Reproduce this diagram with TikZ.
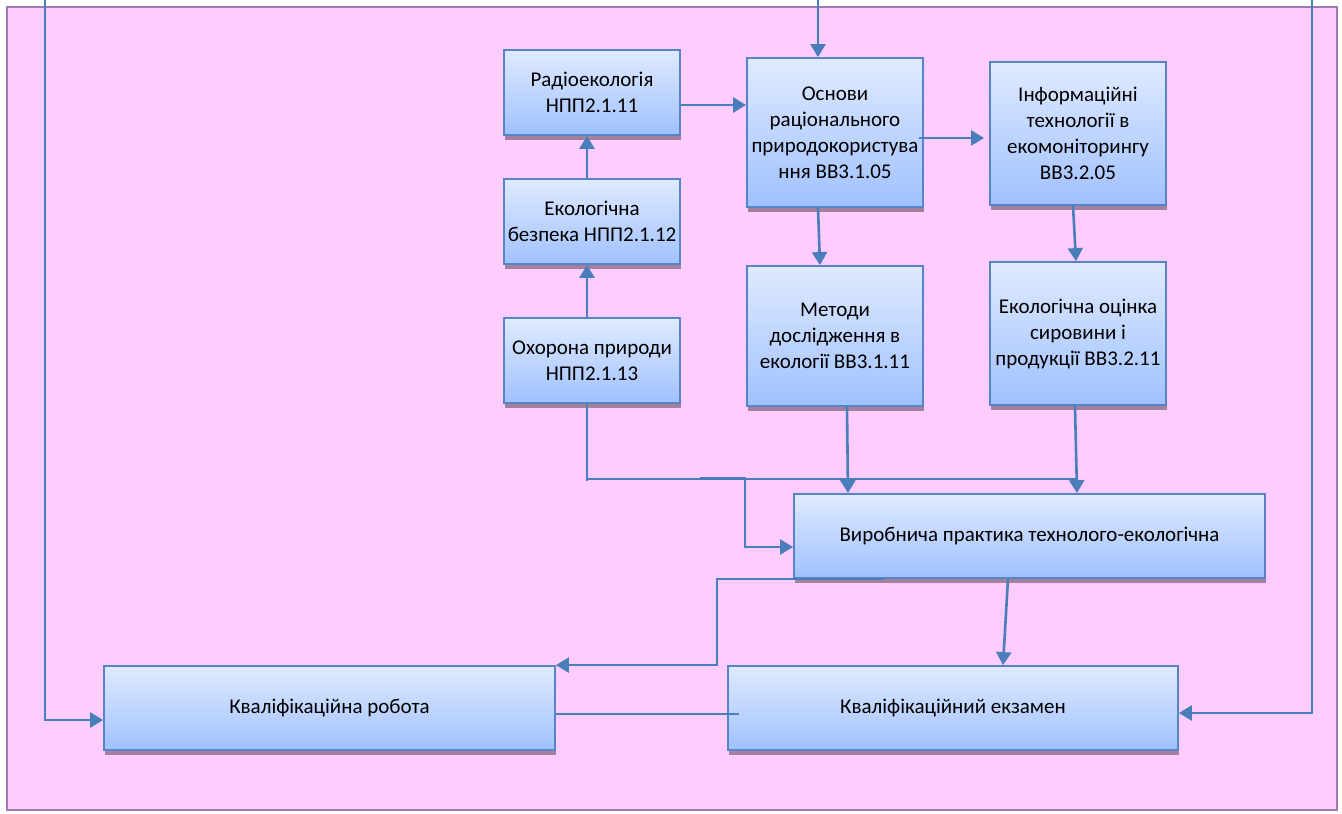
\documentclass[tikz,border=0pt]{standalone}
\usepackage{fontspec}
\setmainfont{Carlito}
\usetikzlibrary{arrows.meta,shadows}
\definecolor{pagepink}{HTML}{FFCCFF}
\definecolor{pageedge}{HTML}{9C7BB5}
\definecolor{boxedge}{HTML}{5585C4}
\definecolor{boxtop}{HTML}{DFEAFF}
\definecolor{boxbot}{HTML}{A0C1FF}
\definecolor{boxshadow}{HTML}{A3819E}
\definecolor{wire}{HTML}{4A7EBB}
\tikzset{
  box/.style={draw=boxedge, line width=1.8pt, top color=boxtop, bottom color=boxbot,
    align=center, inner sep=2pt, font=\fontsize{21}{26}\selectfont,
    drop shadow={shadow xshift=1pt, shadow yshift=-4.5pt, fill=boxshadow, opacity=1}},
  wireline/.style={draw=wire, line width=2.6pt},
  arr/.style={wireline, -{Triangle[width=15pt,length=13pt]}},
}
\begin{document}
\begin{tikzpicture}[x=1pt,y=1pt]
\useasboundingbox (0,0) rectangle (1342,-814);
\fill[white] (0,0) rectangle (1342,-814);
\draw[pageedge, line width=2pt, fill=pagepink] (7,-7) rectangle (1337,-810);

% boxes
\node[box, minimum width=176, minimum height=85] (radio) at (592,-92.5) {Радіоекологія\\НПП2.1.11};
\node[box, minimum width=176, minimum height=85] (bezp) at (592,-221.5) {Екологічна\\безпека НПП2.1.12};
\node[box, minimum width=176, minimum height=85] (ohor) at (592,-360.5) {Охорона природи\\НПП2.1.13};
\node[box, minimum width=176, minimum height=149] (osn) at (835,-132.5) {Основи\\раціонального\\природокористува\\ння ВВ3.1.05};
\node[box, minimum width=176, minimum height=143] (inf) at (1078,-133.5) {Інформаційні\\технології в\\екомоніторингу\\ВВ3.2.05};
\node[box, minimum width=176, minimum height=140] (met) at (835,-336) {Методи\\дослідження в\\екології ВВ3.1.11};
\node[box, minimum width=176, minimum height=143] (ots) at (1078,-333.5) {Екологічна оцінка\\сировини і\\продукції ВВ3.2.11};
\node[box, minimum width=471, minimum height=84] (vyr) at (1029.5,-536) {Виробнича практика технолого-екологічна};
\node[box, minimum width=451, minimum height=84] (kvr) at (329.5,-708) {Кваліфікаційна робота};
\node[box, minimum width=450, minimum height=84] (kve) at (953,-708) {Кваліфікаційний екзамен};

% lines coming in from above
\coordinate (topL) at (45,0);
\coordinate (topM) at (818,0);
\coordinate (topR) at (1312,0);
\draw[arr] (topM) -- ([xshift=-17pt]osn.north);
\draw[arr] (topL) |- ([yshift=-12pt]kvr.west);
\draw[arr] (topR) |- ([yshift=-5pt]kve.east);

% left column
\draw[arr] ([xshift=-5pt]ohor.north) -- ([xshift=-5pt]bezp.south);
\draw[arr] ([xshift=-5pt]bezp.north) -- ([xshift=-5pt]radio.south);
\draw[arr] ([yshift=-12.5pt]radio.east) -- ([yshift=-12.5pt]radio.east -| osn.west);

% middle and right columns
\draw[arr] ([yshift=-5.5pt,xshift=-5pt]osn.east) -- ([yshift=-5.5pt,xshift=-5pt]osn.east -| inf.west);
\draw[arr] ([xshift=-17pt]osn.south) -- ([xshift=-15pt]met.north);
\draw[arr] ([xshift=-5pt]inf.south) -- ([xshift=-2pt]ots.north);

% collecting line into the practice box
\draw[wireline] ([xshift=-5pt]ohor.south) -- ++(0,-77) coordinate (busL);
\draw[wireline] ([yshift=2pt]busL) -- ([yshift=2pt]busL -| ots.south);
\draw[arr] ([xshift=12pt]met.south) -- ([xshift=-181.5pt]vyr.north);
\draw[arr] ([xshift=-3pt]ots.south) -- ([xshift=47.5pt]vyr.north);
\coordinate (branch) at (700,-478);
\draw[arr] (branch) -- ++(45,0) |- ([yshift=-11pt]vyr.west);

% from practice to the final boxes
\draw[arr] ([xshift=90pt]vyr.south west) -- ++(-166,0) |- (kvr.north east);
\draw[arr] ([xshift=-21.5pt]vyr.south) -- ([xshift=50pt]kve.north);
\draw[wireline] ([yshift=-6pt]kvr.east) -- ([yshift=-6pt,xshift=12pt]kve.west);
\end{tikzpicture}
\end{document}
